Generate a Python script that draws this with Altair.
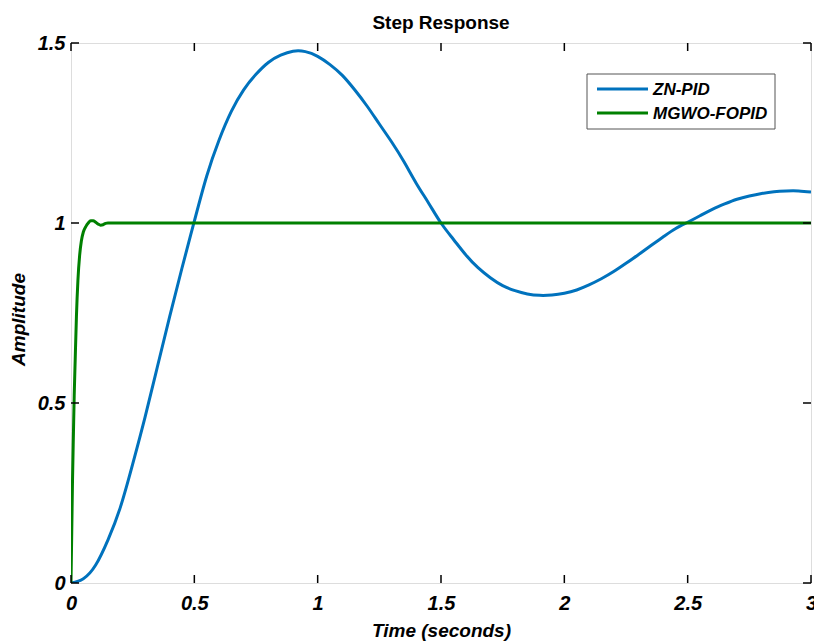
import altair as alt
import pandas as pd

# ---------------- data ----------------
zn_t = [0.00, 0.05, 0.10, 0.15, 0.20, 0.25, 0.30, 0.35, 0.40, 0.45,
        0.50, 0.55, 0.60, 0.65, 0.70, 0.75, 0.80, 0.85, 0.90, 0.95,
        1.00, 1.05, 1.10, 1.15, 1.20, 1.25, 1.30, 1.35, 1.40, 1.45,
        1.50, 1.55, 1.60, 1.65, 1.70, 1.75, 1.80, 1.85, 1.90, 1.95,
        2.00, 2.05, 2.10, 2.15, 2.20, 2.25, 2.30, 2.35, 2.40, 2.45,
        2.50, 2.55, 2.60, 2.65, 2.70, 2.75, 2.80, 2.85, 2.90, 2.95, 3.00]
zn_y = [0.000, 0.012, 0.050, 0.120, 0.210, 0.330, 0.460, 0.600, 0.740, 0.875,
        1.005, 1.130, 1.230, 1.310, 1.370, 1.413, 1.446, 1.466, 1.477, 1.476,
        1.463, 1.440, 1.410, 1.370, 1.325, 1.275, 1.225, 1.170, 1.110, 1.055,
        1.000, 0.955, 0.912, 0.876, 0.848, 0.826, 0.812, 0.803, 0.799, 0.800,
        0.805, 0.814, 0.828, 0.845, 0.865, 0.888, 0.912, 0.937, 0.961, 0.984,
        1.002, 1.020, 1.038, 1.053, 1.066, 1.075, 1.082, 1.087, 1.089, 1.089, 1.086]

mg_t = [0.000, 0.003, 0.006, 0.010, 0.013, 0.017, 0.022, 0.028, 0.035, 0.042,
        0.050, 0.060, 0.070, 0.080, 0.090, 0.100, 0.110, 0.120, 0.130, 0.140,
        0.150, 0.200, 3.000]
mg_y = [0.000, 0.140, 0.280, 0.420, 0.520, 0.620, 0.740, 0.840, 0.910, 0.950,
        0.975, 0.990, 1.000, 1.006, 1.006, 1.002, 0.997, 0.994, 0.995, 0.999,
        1.000, 1.000, 1.000]

series_names = ["ZN-PID", "MGWO-FOPID"]
series_colors = ["#0072BD", "#008000"]

x_ticks = [0, 0.5, 1, 1.5, 2, 2.5, 3]
y_ticks = [0, 0.5, 1, 1.5]

title_text = "Step Response"
x_title = "Time (seconds)"
y_title = "Amplitude"

# ---------------- layout constants ----------------
W, H = 740, 540
FONT = "Liberation Sans"

df_zn = pd.DataFrame({"t": zn_t, "a": zn_y, "s": series_names[0]})
df_mg = pd.DataFrame({"t": mg_t, "a": mg_y, "s": series_names[1]})

xscale = alt.Scale(domain=[0, 3], nice=False, zero=False)
yscale = alt.Scale(domain=[0, 1.5], nice=False, zero=False)
cscale = alt.Scale(domain=series_names, range=series_colors)

xaxis = alt.Axis(values=x_ticks, format=".1~f", ticks=False, domain=False, grid=False,
                 labelFont=FONT, labelFontSize=20, labelFontWeight="bold",
                 labelFontStyle="italic", labelColor="black", labelPadding=10,
                 labelFlush=False, labelOverlap=False,
                 title=x_title, titleFont=FONT, titleFontSize=19, titleFontWeight="bold",
                 titleFontStyle="italic", titleColor="black",
                 titleBaseline="alphabetic", titleY=53)
yaxis = alt.Axis(values=y_ticks, format=".1~f", ticks=False, domain=False, grid=False,
                 labelFont=FONT, labelFontSize=20, labelFontWeight="bold",
                 labelFontStyle="italic", labelColor="black", labelPadding=6,
                 labelFlush=False, labelOverlap=False,
                 title=y_title, titleFont=FONT, titleFontSize=19, titleFontWeight="bold",
                 titleFontStyle="italic", titleColor="black",
                 titleBaseline="alphabetic", titleX=-47, titleY=276, titleAngle=270,
                 titleAlign="center")

line_zn = alt.Chart(df_zn).mark_line(strokeWidth=3, clip=True, interpolate="natural").encode(
    x=alt.X("t:Q", scale=xscale, axis=xaxis),
    y=alt.Y("a:Q", scale=yscale, axis=yaxis),
    color=alt.Color("s:N", scale=cscale, legend=None),
    order=alt.Order("t:Q"),
)
line_mg = alt.Chart(df_mg).mark_line(strokeWidth=3, clip=True, interpolate="monotone").encode(
    x=alt.X("t:Q", scale=xscale),
    y=alt.Y("a:Q", scale=yscale),
    color=alt.Color("s:N", scale=cscale, legend=None),
    order=alt.Order("t:Q"),
)

xt = pd.DataFrame({"t": x_ticks})
yt = pd.DataFrame({"a": y_ticks})
TL = 8
tick_style = dict(color="black", strokeWidth=1.5)
ticks_bottom = alt.Chart(xt).mark_rule(**tick_style).encode(
    x=alt.X("t:Q", scale=xscale), y=alt.value(H), y2=alt.value(H - TL))
ticks_top = alt.Chart(xt).mark_rule(**tick_style).encode(
    x=alt.X("t:Q", scale=xscale), y=alt.value(0), y2=alt.value(TL))
ticks_left = alt.Chart(yt).mark_rule(**tick_style).encode(
    y=alt.Y("a:Q", scale=yscale), x=alt.value(0), x2=alt.value(TL))
ticks_right = alt.Chart(yt).mark_rule(**tick_style).encode(
    y=alt.Y("a:Q", scale=yscale), x=alt.value(W), x2=alt.value(W - TL))

# ---------------- legend (drawn by hand, MATLAB style) ----------------
one = pd.DataFrame({"k": [0]})
LX0, LX1, LY0, LY1 = 516, 704, 31, 86
leg_box = alt.Chart(one).mark_rect(fill="white", stroke="#555555", strokeWidth=1).encode(
    x=alt.value(LX0), x2=alt.value(LX1), y=alt.value(LY0), y2=alt.value(LY1))
leg_layers = [leg_box]
for i, (name, col) in enumerate(zip(series_names, series_colors)):
    yy = 46 + i * 24
    leg_layers.append(alt.Chart(one).mark_rule(color=col, strokeWidth=3).encode(
        x=alt.value(526), x2=alt.value(577), y=alt.value(yy)))
    leg_layers.append(alt.Chart(one).mark_text(
        text=name, align="left", baseline="middle", font=FONT, fontSize=17,
        fontWeight="bold", fontStyle="italic", color="black").encode(
        x=alt.value(582), y=alt.value(yy + 1)))

chart = alt.layer(line_zn, line_mg, ticks_bottom, ticks_top, ticks_left, ticks_right,
                  *leg_layers).properties(
    width=W, height=H,
    title=alt.TitleParams(title_text, font=FONT, fontSize=19, fontWeight="bold",
                          color="black", anchor="middle", offset=0),
    autosize=alt.AutoSizeParams(type="none"),
    padding={"left": 71, "top": 43, "right": 3, "bottom": 59},
).configure_view(stroke="black", strokeWidth=2.5).configure(background="white")

chart.save("out.html", embed_options={"renderer": "svg", "actions": False})
